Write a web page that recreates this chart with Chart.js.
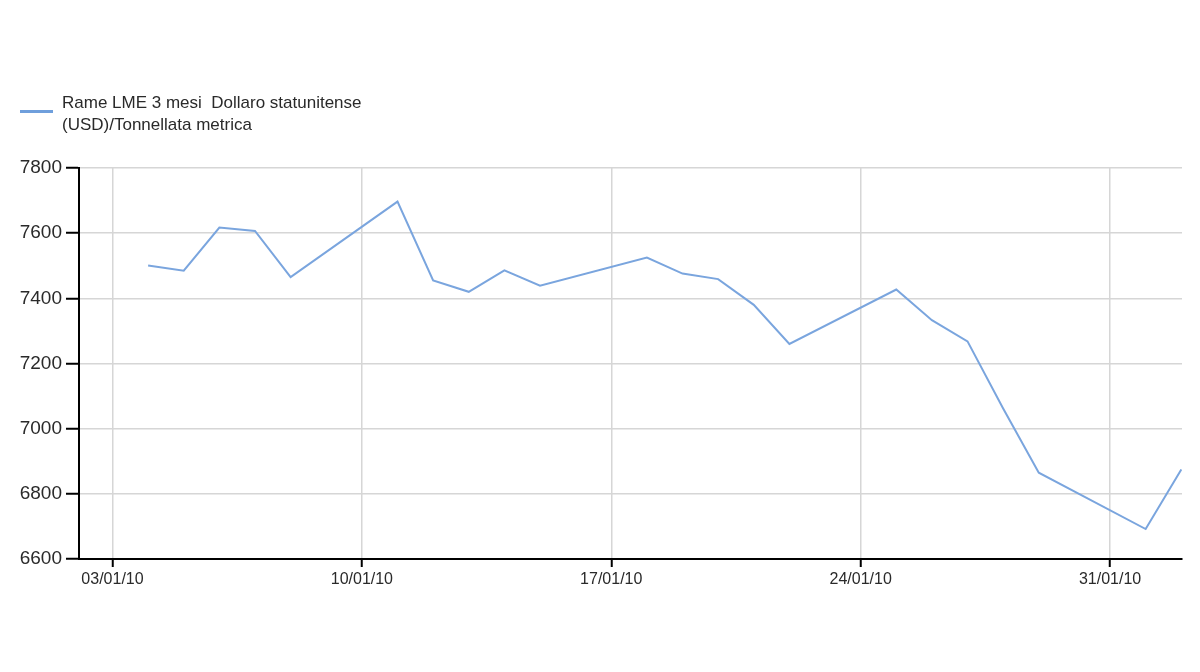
<!DOCTYPE html>
<html>
<head>
<meta charset="utf-8">
<script src="https://cdn.jsdelivr.net/npm/chart.js@4"></script>
<style>
  html, body { margin: 0; padding: 0; background: #fff; }
  #wrap { position: relative; width: 1200px; height: 672px; }
  #legend { position: absolute; left: 20px; top: 92px; font-family: "Liberation Sans", Arial, sans-serif; font-size: 17px; color: #2a2a2a; line-height: 22px; }
  #legend .swatch { position: absolute; left: 0; top: 18px; width: 33px; height: 3px; background: #6f9fdc; }
  #legend .txt { margin-left: 42px; }
</style>
</head>
<body>
<div id="wrap">
  <canvas id="c" width="1200" height="672"></canvas>
  <div id="legend"><div class="swatch"></div><div class="txt">Rame LME 3 mesi&nbsp; Dollaro statunitense<br>(USD)/Tonnellata metrica</div></div>
</div>
<script>
const seriesName = "Rame LME 3 mesi  Dollaro statunitense (USD)/Tonnellata metrica";
const dates = ["04/01/10","05/01/10","06/01/10","07/01/10","08/01/10",
               "11/01/10","12/01/10","13/01/10","14/01/10","15/01/10",
               "18/01/10","19/01/10","20/01/10","21/01/10","22/01/10",
               "25/01/10","26/01/10","27/01/10","28/01/10","29/01/10",
               "01/02/10","02/02/10"];
const prices = [7501, 7485, 7617, 7607, 7465,
                7697, 7455, 7420, 7486, 7439,
                7525, 7476, 7459, 7380, 7260,
                7427, 7333, 7268, 7062, 6865,
                6692, 6875];
const xTickLabels = ["03/01/10","10/01/10","17/01/10","24/01/10","31/01/10"];
const yTicks = [6600, 6800, 7000, 7200, 7400, 7600, 7800];

// day-of-year index for a dd/mm/yy label
const monthStart = {1: 0, 2: 31};
function dayNum(s) {
  const p = s.split("/");
  return monthStart[parseInt(p[1], 10)] + parseInt(p[0], 10);
}
const points = dates.map((d, i) => ({ x: dayNum(d), y: prices[i] }));
const xTickVals = xTickLabels.map(dayNum);
const labelFor = {};
xTickLabels.forEach(l => { labelFor[dayNum(l)] = l; });

const FONT = "'Liberation Sans', Arial, sans-serif";

new Chart(document.getElementById("c"), {
  type: "line",
  data: {
    datasets: [{
      label: seriesName,
      data: points,
      borderColor: "#7aa5de",
      borderWidth: 2,
      pointRadius: 0,
      tension: 0,
      fill: false
    }]
  },
  options: {
    responsive: false,
    animation: false,
    layout: { padding: { top: 168, right: 18, left: 0, bottom: 0 } },
    plugins: { legend: { display: false }, tooltip: { enabled: false } },
    scales: {
      x: {
        type: "linear",
        min: 2.06,
        max: 33.02,
        afterBuildTicks: (s) => { s.ticks = xTickVals.map(v => ({ value: v })); },
        afterFit: (s) => { s.height = 113; },
        ticks: {
          callback: (v) => labelFor[v] || "",
          font: { family: FONT, size: 16 },
          color: "#2a2a2a",
          padding: 3,
          maxRotation: 0,
          autoSkip: false
        },
        grid: { color: "#d6d6d6", lineWidth: 1.5, tickColor: "#000", tickLength: 8, tickWidth: 2 },
        border: { color: "#000", width: 2 }
      },
      y: {
        min: 6600,
        max: 7800,
        afterBuildTicks: (s) => { s.ticks = yTicks.map(v => ({ value: v })); },
        afterFit: (s) => { s.width = 79; },
        ticks: {
          callback: (v) => String(v),
          font: { family: FONT, size: 19 },
          color: "#2a2a2a",
          padding: 4
        },
        grid: { color: "#d6d6d6", lineWidth: 1.5, tickColor: "#000", tickLength: 13, tickWidth: 2 },
        border: { color: "#000", width: 2 }
      }
    }
  }
});
</script>
</body>
</html>
